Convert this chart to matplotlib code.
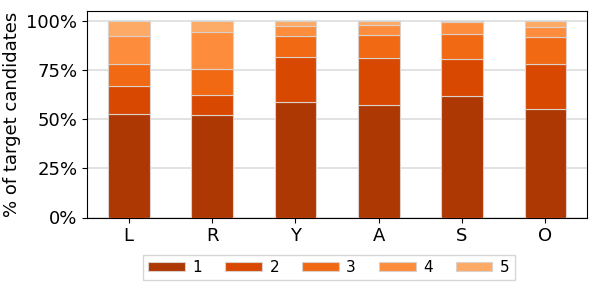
import matplotlib
matplotlib.use("Agg")
import matplotlib.pyplot as plt
import numpy as np
from matplotlib.ticker import PercentFormatter

categories = ["L", "R", "Y", "A", "S", "O"]
series_labels = ["1", "2", "3", "4", "5"]

# share of target candidates per rank bucket (%)
rank1 = [52.6, 52.2, 59.1, 57.4, 61.7, 55.5]
rank2 = [14.2, 10.4, 22.9, 23.7, 19.3, 22.9]
rank3 = [11.2, 13.1, 10.7, 12.1, 12.7, 13.6]
rank4 = [14.3, 19.0, 5.1, 5.1, 5.9, 5.1]
rank5 = [7.7, 5.3, 2.2, 1.7, 0.4, 2.9]

COLORS = ["#ad3803", "#d94801", "#f16913", "#fd8d3c", "#fdaa66"]

plt.rcParams.update({
    "font.family": "DejaVu Sans",
    "font.size": 13,
})

fig = plt.figure(figsize=(5.98, 2.92), dpi=100)
ax = fig.add_axes([87 / 598, 1 - 217.5 / 292, 500 / 598, 207 / 292])

x = np.arange(len(categories))
bottom = np.zeros(len(categories))
for values, label, color in zip([rank1, rank2, rank3, rank4, rank5], series_labels, COLORS):
    vals = np.array(values) / 100
    ax.bar(x, vals, width=0.5, bottom=bottom, color=color, label=label,
           edgecolor="#dcd0ca", linewidth=0.8, zorder=3)
    bottom += vals

ax.set_xlim(-0.5, 5.5)
ax.set_ylim(0, 1.055)
ax.set_xticks(x)
ax.set_xticklabels(categories)
ax.set_yticks([0, 0.25, 0.5, 0.75, 1.0])
ax.yaxis.set_major_formatter(PercentFormatter(1.0, decimals=0))
ax.set_ylabel("% of target candidates")
ax.grid(axis="y", color="#dddddd", linewidth=1.2, zorder=0)
ax.set_axisbelow(True)

ax.legend(loc="center", bbox_to_anchor=(0.484, -0.2415), ncol=5, frameon=True,
          fancybox=False, edgecolor="#cccccc", fontsize=11, handlelength=2.4,
          columnspacing=1.5, handletextpad=0.5, borderpad=0.35, handleheight=0.6)

fig.savefig("out.png", dpi=100)
